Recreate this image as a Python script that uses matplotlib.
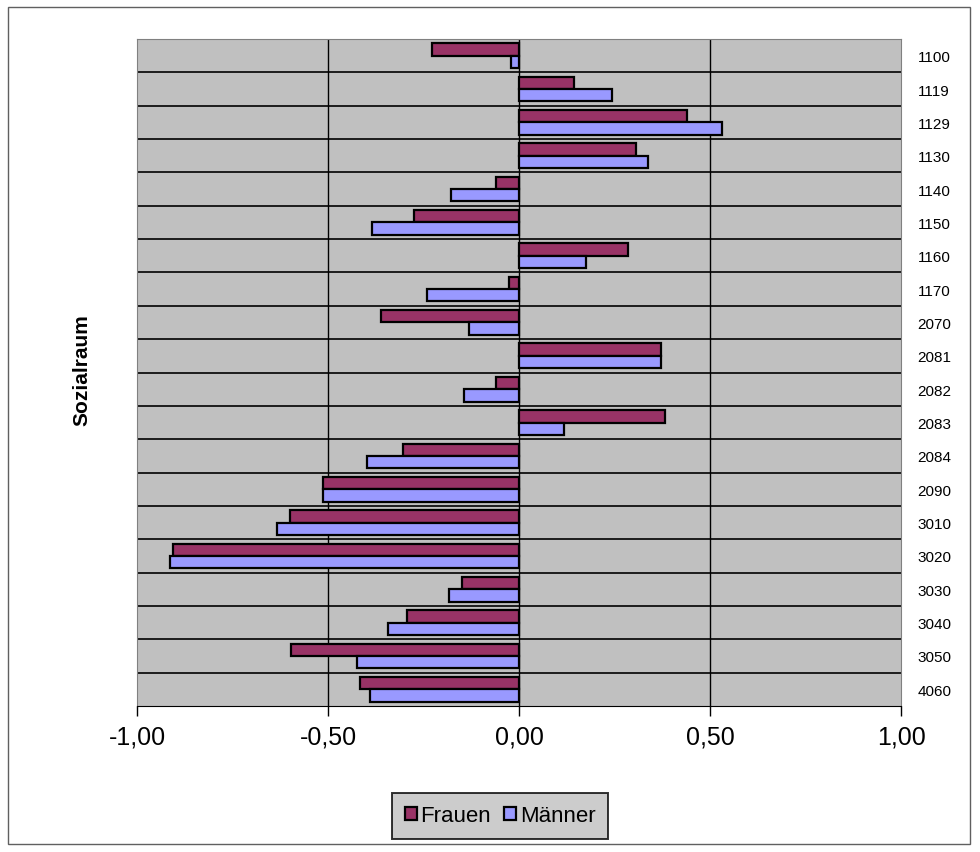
import numpy as np
import matplotlib
matplotlib.use('Agg')
import matplotlib.pyplot as plt

plt.rcParams['font.family'] = ['Liberation Sans', 'DejaVu Sans']

# Sozialraum codes, top to bottom
sozialraum = ['1100', '1119', '1129', '1130', '1140', '1150', '1160', '1170',
              '2070', '2081', '2082', '2083', '2084', '2090', '3010', '3020',
              '3030', '3040', '3050', '4060']
frauen = [-0.227, 0.145, 0.439, 0.305, -0.061, -0.276, 0.285, -0.027,
          -0.360, 0.373, -0.060, 0.383, -0.304, -0.513, -0.600, -0.906,
          -0.149, -0.292, -0.597, -0.417]
maenner = [-0.020, 0.244, 0.532, 0.337, -0.177, -0.384, 0.176, -0.241,
           -0.131, 0.373, -0.143, 0.119, -0.397, -0.513, -0.634, -0.913,
           -0.182, -0.343, -0.424, -0.391]
xticks = [-1.0, -0.5, 0.0, 0.5, 1.0]
xticklabels = ['-1,00', '-0,50', '0,00', '0,50', '1,00']

fig = plt.figure(figsize=(9.8, 8.53), dpi=100)
ax = fig.add_axes([137 / 980, 1 - 707 / 853, (901 - 137) / 980, (707 - 40) / 853])

y = np.arange(len(sozialraum))
h = 0.37
ax.barh(y - h / 2, frauen, height=h, color='#993366', edgecolor='black',
        linewidth=1.6, label='Frauen', zorder=3)
ax.barh(y + h / 2, maenner, height=h, color='#9999FF', edgecolor='black',
        linewidth=1.6, label='Männer', zorder=3)

ax.set_facecolor('#C0C0C0')
ax.set_xlim(-1, 1)
ax.set_ylim(len(sozialraum) - 0.5, -0.5)

# grid: vertical lines at ticks, horizontal separators between categories
for xv in [-0.5, 0.0, 0.5]:
    ax.axvline(xv, color='black', linewidth=1, zorder=1)
for yv in np.arange(0.5, len(sozialraum) - 0.5, 1):
    ax.axhline(yv, color='black', linewidth=1.2, zorder=1)

ax.set_xticks(xticks)
ax.set_xticklabels(xticklabels, fontsize=18)
ax.tick_params(axis='x', direction='out', length=7, width=1, pad=6)

ax.set_yticks(y)
ax.set_yticklabels(sozialraum, fontsize=11)
ax.yaxis.tick_right()
ax.tick_params(axis='y', length=0, pad=12)

for s in ['top', 'left', 'right']:
    ax.spines[s].set_color('#808080')
ax.spines['bottom'].set_color('black')

fig.text(82 / 980, 1 - 370 / 853, 'Sozialraum', rotation=90, fontsize=15,
         fontweight='bold', ha='center', va='center')

leg = fig.legend(loc='center', bbox_to_anchor=(500 / 980, 1 - 817 / 853), ncol=2,
                 fontsize=16, frameon=True, fancybox=False, edgecolor='black',
                 facecolor='#C0C0C0', handlelength=0.55, handleheight=0.55,
                 handletextpad=0.15, columnspacing=0.6, borderpad=0.55)
leg.get_frame().set_linewidth(1.4)

# outer border
fig.patches.append(plt.Rectangle((8 / 980, 8 / 853), 962 / 980, 837 / 853,
                                 transform=fig.transFigure, fill=False,
                                 edgecolor='#606060', linewidth=1))

fig.savefig('out.png', dpi=100)
